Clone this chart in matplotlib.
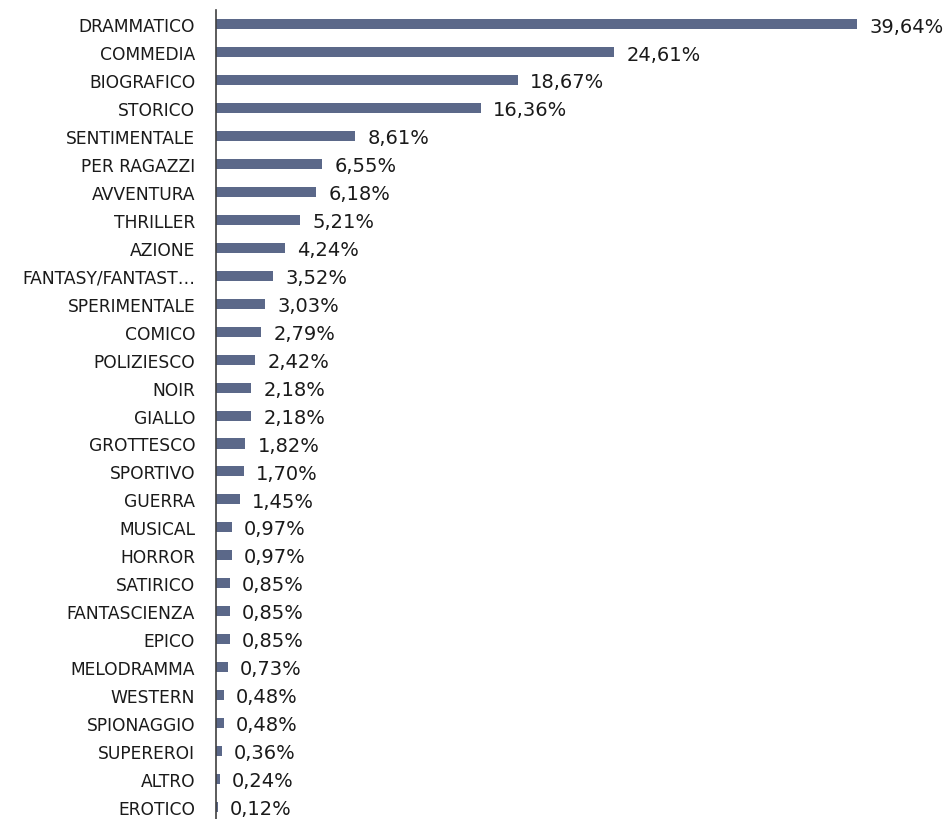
import matplotlib
matplotlib.use("Agg")
import matplotlib.pyplot as plt

generi = ["DRAMMATICO", "COMMEDIA", "BIOGRAFICO", "STORICO", "SENTIMENTALE",
          "PER RAGAZZI", "AVVENTURA", "THRILLER", "AZIONE", "FANTASY/FANTAST…",
          "SPERIMENTALE", "COMICO", "POLIZIESCO", "NOIR", "GIALLO", "GROTTESCO",
          "SPORTIVO", "GUERRA", "MUSICAL", "HORROR", "SATIRICO", "FANTASCIENZA",
          "EPICO", "MELODRAMMA", "WESTERN", "SPIONAGGIO", "SUPEREROI", "ALTRO",
          "EROTICO"]
percentuali = [39.64, 24.61, 18.67, 16.36, 8.61, 6.55, 6.18, 5.21, 4.24, 3.52,
               3.03, 2.79, 2.42, 2.18, 2.18, 1.82, 1.70, 1.45, 0.97, 0.97,
               0.85, 0.85, 0.85, 0.73, 0.48, 0.48, 0.36, 0.24, 0.12]

plt.rcParams["font.family"] = ["DejaVu Sans"]

fig = plt.figure(figsize=(9.53, 8.2), dpi=100)
ax = fig.add_axes([0.2267, -0.002, 0.764, 0.988])

pos = list(range(len(generi)))
ax.barh(pos, percentuali, height=0.36, color="#5B6889")

for y, v in zip(pos, percentuali):
    ax.text(v + 0.75, y + 0.06, f"{v:.2f}%".replace(".", ","),
            va="center", ha="left", fontsize=14, color="#1a1a1a")

ax.set_xlim(0, 45)
ax.set_ylim(len(generi) - 0.5, -0.5)
ax.set_yticks(pos)
ax.set_yticklabels(generi, fontsize=12.3, color="#1a1a1a")
ax.tick_params(axis="y", length=0, pad=15)
ax.set_xticks([])
for s in ["top", "right", "bottom"]:
    ax.spines[s].set_visible(False)
ax.spines["left"].set_color("#404040")
ax.spines["left"].set_linewidth(1.2)

fig.savefig("out.png", dpi=100)
